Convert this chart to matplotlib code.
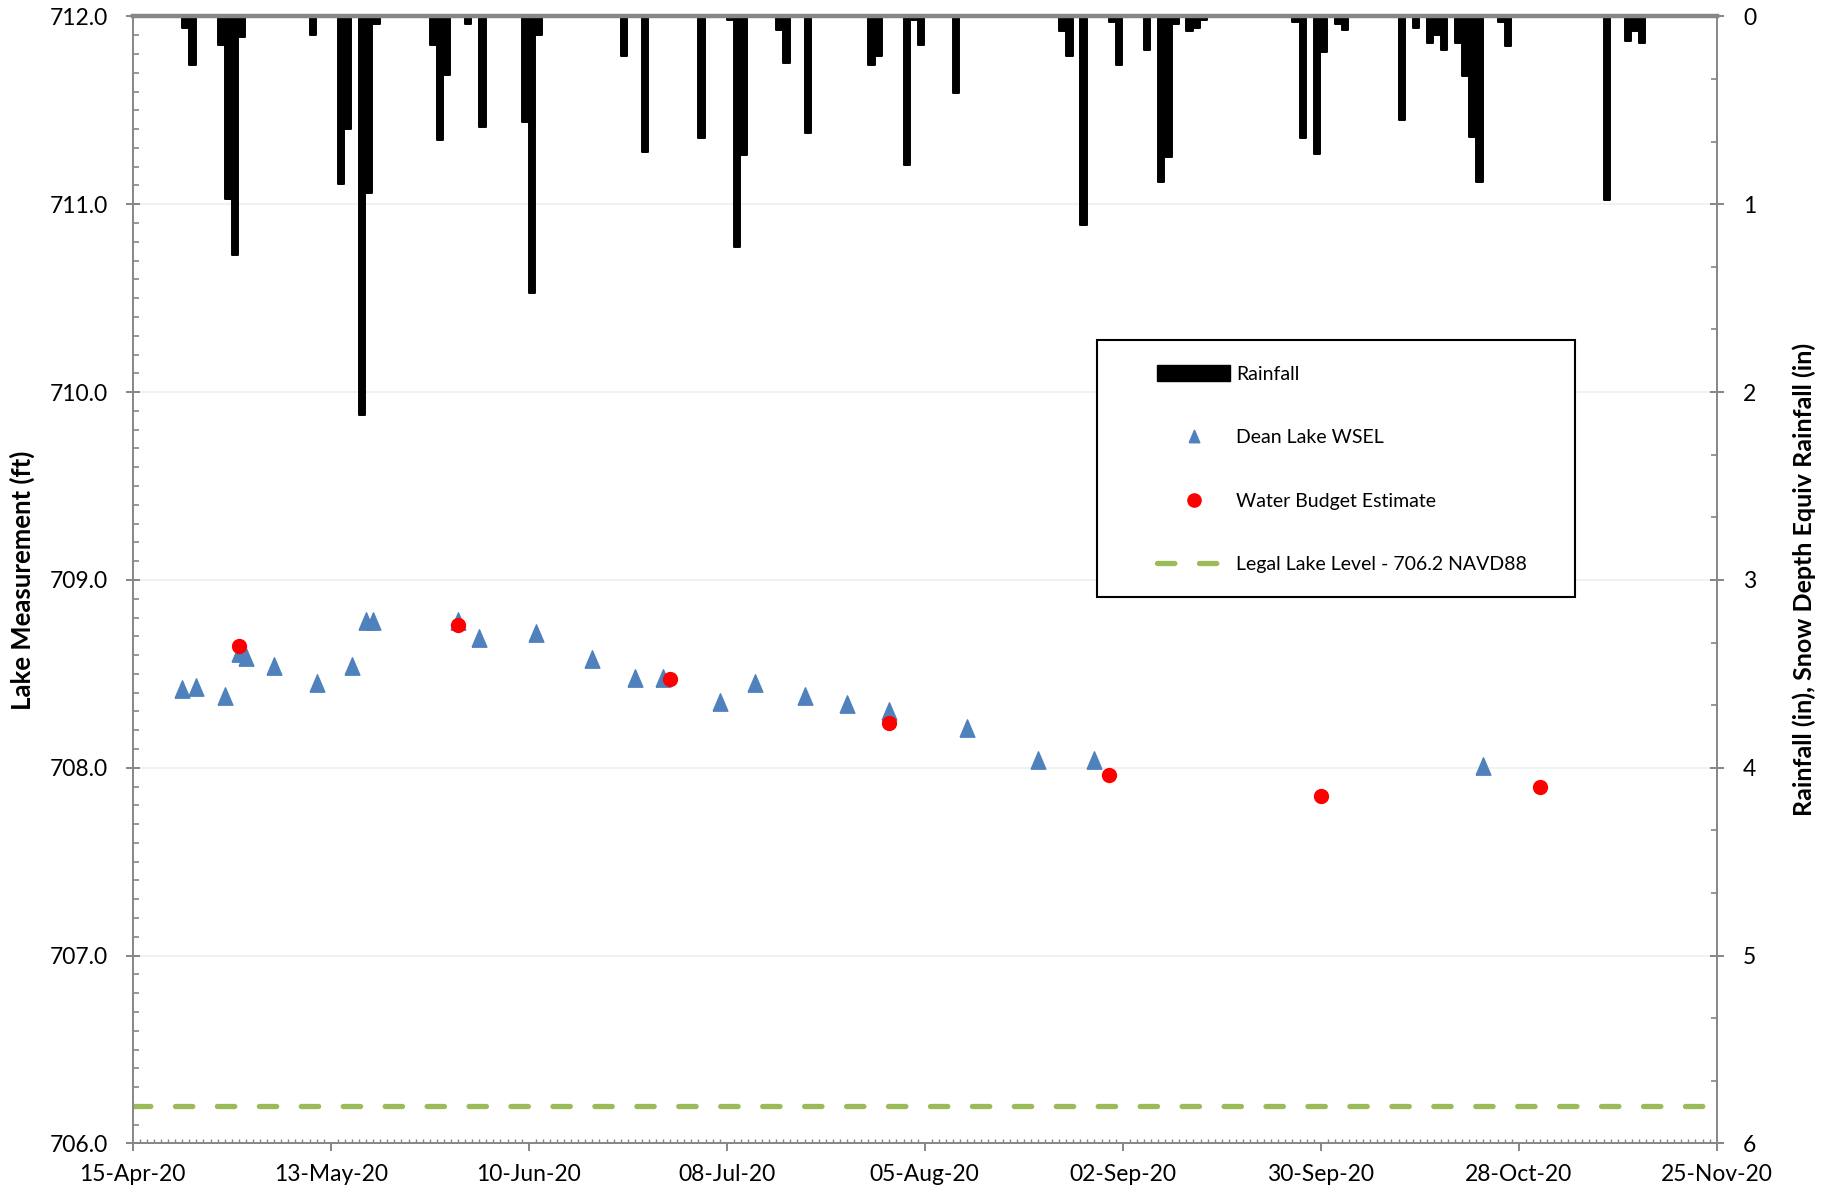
import numpy as np
import pandas as pd
import matplotlib
matplotlib.use('Agg')
import matplotlib.pyplot as plt
import matplotlib.dates as mdates
from matplotlib.lines import Line2D
from matplotlib.patches import Patch, Rectangle
from matplotlib.ticker import MultipleLocator, FixedLocator, FormatStrFormatter

plt.rcParams['font.family'] = ['Lato', 'DejaVu Sans']
plt.rcParams['lines.scale_dashes'] = False

# daily rainfall (in)
rain_dates = ['2020-04-22', '2020-04-23', '2020-04-27', '2020-04-28', '2020-04-29', '2020-04-30',
              '2020-05-10', '2020-05-14', '2020-05-15', '2020-05-17', '2020-05-18', '2020-05-19',
              '2020-05-27', '2020-05-28', '2020-05-29', '2020-06-01', '2020-06-03', '2020-06-09',
              '2020-06-10', '2020-06-11', '2020-06-23', '2020-06-26', '2020-07-04', '2020-07-08',
              '2020-07-09', '2020-07-10', '2020-07-15', '2020-07-16', '2020-07-19', '2020-07-28',
              '2020-07-29', '2020-08-02', '2020-08-03', '2020-08-04', '2020-08-09', '2020-08-24',
              '2020-08-25', '2020-08-27', '2020-08-31', '2020-09-01', '2020-09-05', '2020-09-07',
              '2020-09-08', '2020-09-09', '2020-09-11', '2020-09-12', '2020-09-13', '2020-09-26',
              '2020-09-27', '2020-09-29', '2020-09-30', '2020-10-02', '2020-10-03', '2020-10-11',
              '2020-10-13', '2020-10-15', '2020-10-16', '2020-10-17', '2020-10-19', '2020-10-20',
              '2020-10-21', '2020-10-22', '2020-10-25', '2020-10-26', '2020-11-09', '2020-11-12',
              '2020-11-13', '2020-11-14']
rain_in = [0.06, 0.26, 0.15, 0.97, 1.27, 0.11,
           0.10, 0.89, 0.60, 2.12, 0.94, 0.04,
           0.15, 0.66, 0.31, 0.04, 0.59, 0.56,
           1.47, 0.10, 0.21, 0.72, 0.65, 0.02,
           1.23, 0.74, 0.07, 0.25, 0.62, 0.26,
           0.21, 0.79, 0.02, 0.15, 0.41, 0.08,
           0.21, 1.11, 0.03, 0.26, 0.18, 0.88,
           0.75, 0.04, 0.08, 0.06, 0.02, 0.03,
           0.65, 0.73, 0.19, 0.04, 0.07, 0.55,
           0.06, 0.14, 0.10, 0.18, 0.14, 0.32,
           0.64, 0.88, 0.03, 0.16, 0.98, 0.13,
           0.08, 0.14]

# measured water surface elevation (ft)
wsel_dates = ['2020-04-22', '2020-04-24', '2020-04-28', '2020-04-30', '2020-05-01', '2020-05-05',
              '2020-05-11', '2020-05-16', '2020-05-18', '2020-05-19', '2020-05-31', '2020-06-03',
              '2020-06-11', '2020-06-19', '2020-06-25', '2020-06-29', '2020-07-07', '2020-07-12',
              '2020-07-19', '2020-07-25', '2020-07-31', '2020-08-11', '2020-08-21', '2020-08-29',
              '2020-10-23']
wsel_ft = [708.42, 708.43, 708.38, 708.61, 708.59, 708.54,
           708.45, 708.54, 708.78, 708.78, 708.78, 708.69,
           708.72, 708.58, 708.48, 708.48, 708.35, 708.45,
           708.38, 708.34, 708.30, 708.21, 708.04, 708.04,
           708.01]

# month-end water budget estimates (ft)
budget_dates = ['2020-04-30', '2020-05-31', '2020-06-30', '2020-07-31', '2020-08-31', '2020-09-30', '2020-10-31']
budget_ft = [708.65, 708.76, 708.47, 708.24, 707.96, 707.85, 707.90]

legal_level = 706.2

start, end = pd.Timestamp('2020-04-15'), pd.Timestamp('2020-11-25')
rain_x = mdates.date2num(pd.to_datetime(rain_dates))
wsel_x = mdates.date2num(pd.to_datetime(wsel_dates))
budget_x = mdates.date2num(pd.to_datetime(budget_dates))

GREY = '#868686'
BLUE = '#4F81BD'
GREEN = '#9BBB59'

fig = plt.figure(figsize=(18.39, 11.95), dpi=100)
ax = fig.add_axes([0.0722, 0.0431, 0.8613, 0.9432])
ax2 = ax.twinx()

# lake levels on the left axis
tri = [(-0.85, -1), (0, 1), (0.85, -1), (-0.85, -1)]
ax.plot(wsel_x, wsel_ft, ls='none', marker=tri, ms=12.5, color=BLUE, mec=BLUE, zorder=3)
ax.plot(budget_x, budget_ft, ls='none', marker='o', ms=10, color='red', mec='red', zorder=4)
ax.axhline(legal_level, color=GREEN, lw=3.8, dashes=(12.5, 17.7), dash_capstyle='round', zorder=2)

ax.set_xlim(mdates.date2num(start), mdates.date2num(end))
ax.set_ylim(706, 712)
ax.yaxis.set_major_locator(MultipleLocator(1))
ax.yaxis.set_minor_locator(MultipleLocator(0.1))
ax.yaxis.set_major_formatter(FormatStrFormatter('%.1f'))
ax.xaxis.set_major_locator(FixedLocator(mdates.date2num(pd.date_range(start, end, freq='28D'))))
ax.xaxis.set_minor_locator(mdates.DayLocator())
ax.xaxis.set_major_formatter(mdates.DateFormatter('%d-%b-%y'))
ax.grid(True, axis='y', which='major', color='#EDEDED', lw=1.1)
ax.set_axisbelow(True)

ax.tick_params(axis='y', which='major', direction='inout', length=10, width=1.4, color=GREY, labelsize=16.5, pad=13)
ax.tick_params(axis='y', which='minor', direction='in', length=4, width=1.2, color=GREY)
ax.tick_params(axis='x', which='major', direction='out', length=6, width=1.4, color=GREY, labelsize=16.5, pad=9)
ax.tick_params(axis='x', which='minor', direction='in', length=2.6, width=1.0, color=GREY)
for side in ['left', 'bottom']:
    ax.spines[side].set_color(GREY)
    ax.spines[side].set_linewidth(1.4)
ax.spines['top'].set_visible(False)
ax.spines['right'].set_visible(False)

ax.set_ylabel('Lake Measurement (ft)', fontsize=18.5, fontweight='bold')
ax.yaxis.set_label_coords(-0.0617, 0.5)

# rainfall hanging from the top on the right axis
ax2.bar(rain_x, rain_in, width=0.9, align='edge', color='black', edgecolor='black', lw=1.4, joinstyle='round')
ax2.set_ylim(6, 0)
ax2.yaxis.set_major_locator(MultipleLocator(1))
ax2.yaxis.set_minor_locator(MultipleLocator(1 / 3))
ax2.yaxis.set_major_formatter(FormatStrFormatter('%d'))
ax2.tick_params(axis='y', which='major', direction='inout', length=10, width=1.4, color=GREY, labelsize=16.5, pad=14)
ax2.tick_params(axis='y', which='minor', direction='in', length=4, width=1.2, color=GREY)
ax2.spines['right'].set_color(GREY)
ax2.spines['right'].set_linewidth(1.4)
ax2.spines['top'].set_color(GREY)
ax2.spines['top'].set_linewidth(3.2)
ax2.spines['left'].set_visible(False)
ax2.spines['bottom'].set_visible(False)
ax2.set_ylabel('Rainfall (in), Snow Depth Equiv Rainfall (in)', fontsize=18, fontweight='bold')
ax2.yaxis.set_label_coords(1.0475, 0.5)

# legend box
ax2.add_patch(Rectangle((0.6085, 0.4849), 0.302, 0.228, transform=ax2.transAxes,
                        facecolor='white', edgecolor='black', lw=1.5, zorder=4))
handles = [
    Patch(facecolor='black', edgecolor='black', joinstyle='round', label='Rainfall'),
    Line2D([], [], ls='none', marker=tri, ms=9, color=BLUE, label='Dean Lake WSEL'),
    Line2D([], [], ls='none', marker='o', ms=9.5, color='red', label='Water Budget Estimate'),
    Line2D([], [], color=GREEN, lw=3.8, dashes=(12.5, 17.7), dash_capstyle='round',
           label='Legal Lake Level - 706.2 NAVD88'),
]
leg = ax2.legend(handles=handles, loc='upper left', bbox_to_anchor=(0.6467, 0.6905), frameon=False,
                 borderpad=0, borderaxespad=0, fontsize=14, handlelength=3.75, handleheight=0.85,
                 handletextpad=0.3, labelspacing=2.37)
leg.set_zorder(5)

fig.savefig('out.png', dpi=100)
